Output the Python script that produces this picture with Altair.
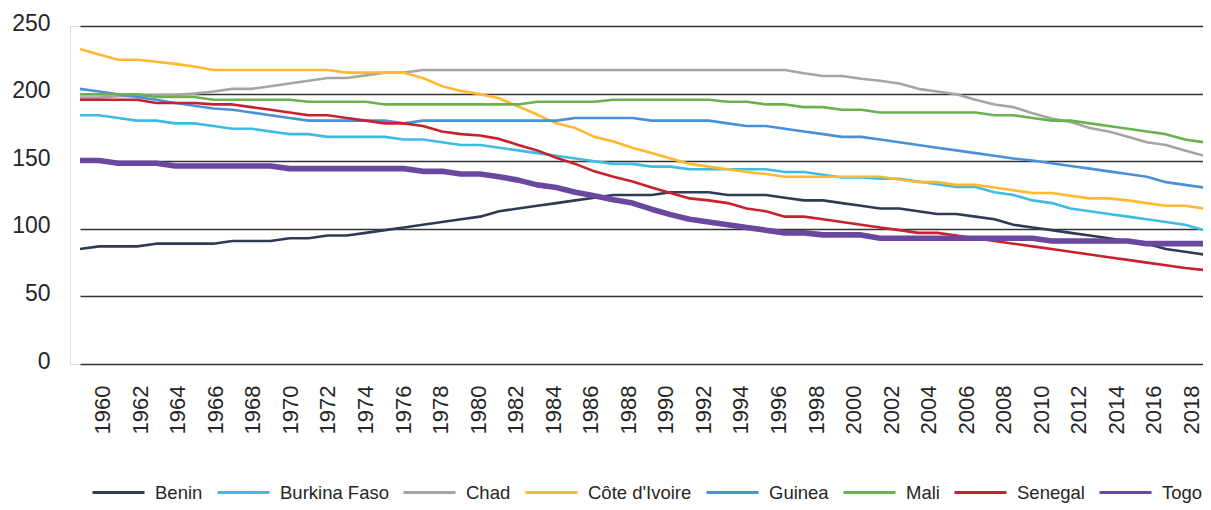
import altair as alt
import pandas as pd

years = list(range(1960, 2020))
label_years = list(range(1960, 2019, 2))

countries = ["Benin", "Burkina Faso", "Chad", "Côte d'Ivoire", "Guinea", "Mali", "Senegal", "Togo"]
colors = ["#2E3B55", "#3DBBE3", "#A5A5A5", "#FFB92E", "#4A90D9", "#6AB150", "#C8202E", "#6A48A0"]

benin = [85, 87, 87, 87, 89, 89, 89, 89, 91, 91, 91, 93, 93, 95, 95, 97, 99, 101, 103, 105,
         107, 109, 113, 115, 117, 119, 121, 123, 125, 125, 125, 127, 127, 127, 125, 125, 125, 123, 121, 121,
         119, 117, 115, 115, 113, 111, 111, 109, 107, 103, 101, 99, 97, 95, 93, 91, 89, 85, 83, 81]
burkina = [184, 184, 182, 180, 180, 178, 178, 176, 174, 174, 172, 170, 170, 168, 168, 168, 168, 166, 166, 164,
           162, 162, 160, 158, 156, 154, 152, 150, 148, 148, 146, 146, 144, 144, 144, 144, 144, 142, 142, 140,
           138, 138, 137, 137, 135, 133, 131, 131, 127, 125, 121, 119, 115, 113, 111, 109, 107, 105, 103, 99]
chad = [197, 197, 198, 198, 199, 199, 200, 201.5, 203.5, 203.5, 205.5, 207.5, 209.5, 211.5, 211.5, 213.5, 215.5, 215.5, 217.5, 217.5,
        217.5, 217.5, 217.5, 217.5, 217.5, 217.5, 217.5, 217.5, 217.5, 217.5, 217.5, 217.5, 217.5, 217.5, 217.5, 217.5, 217.5, 217.5, 215, 213,
        213, 211, 209.5, 207.5, 203.5, 201.5, 199.5, 195.5, 192, 190, 185.5, 181.5, 179, 174.5, 172, 168, 164, 162, 158, 154]
cote = [233, 229, 225, 225, 223.5, 222, 220, 217.5, 217.5, 217.5, 217.5, 217.5, 217.5, 217.5, 215.5, 215.5, 215.5, 215.5, 211.5, 205.5,
        202, 199.5, 196.5, 190.5, 184.5, 178, 174.5, 168, 164.5, 160, 156, 152, 148, 146, 144, 142, 140.5, 138.5, 138.5, 138.5,
        138.5, 138.5, 138.5, 136.5, 134.5, 134.5, 132.5, 132.5, 130.5, 128.5, 126.5, 126.5, 124.5, 122.5, 122.5, 121, 119, 117, 117, 115]
guinea = [203.5, 201.5, 199.5, 197.5, 195.5, 193, 191, 189, 188, 186, 184, 182, 180, 180, 180, 180, 180, 178, 180, 180,
          180, 180, 180, 180, 180, 180, 182, 182, 182, 182, 180, 180, 180, 180, 178, 176, 176, 174, 172, 170,
          168, 168, 166, 164, 162, 160, 158, 156, 154, 152, 150.5, 148.5, 146.5, 144.5, 142.5, 140.5, 138.5, 134.5, 132.5, 130.5]
mali = [199.5, 199.5, 199.5, 199.5, 197.5, 197.5, 197.5, 195.5, 195.5, 195.5, 195.5, 195.5, 194, 194, 194, 194, 192, 192, 192, 192,
        192, 192, 192, 192, 194, 194, 194, 194, 195.5, 195.5, 195.5, 195.5, 195.5, 195.5, 194, 194, 192, 192, 190, 190,
        188, 188, 186, 186, 186, 186, 186, 186, 184, 184, 182, 180, 180, 178, 176, 174, 172, 170, 166, 164]
senegal = [195.5, 195.5, 195.5, 195.5, 193, 193, 193, 192, 192, 190, 188, 186, 184, 184, 182, 180, 178, 178, 176, 172,
           170, 169, 166.5, 162, 158, 152.5, 148, 142.5, 138.5, 135, 130.5, 126.5, 122.5, 121, 119, 115, 113, 109, 109, 107,
           105, 103, 101, 99, 97, 97, 95, 93, 91, 89, 87, 85, 83, 81, 79, 77, 75, 73, 71, 69.5]
togo = [150.5, 150.5, 148.5, 148.5, 148.5, 146.5, 146.5, 146.5, 146.5, 146.5, 146.5, 144.5, 144.5, 144.5, 144.5, 144.5, 144.5, 144.5, 142.5, 142.5,
        140.5, 140.5, 138.5, 136, 132.5, 130.5, 127, 124.5, 121.5, 119, 114.5, 110.5, 107, 105, 103, 101, 99, 97, 97, 95.5,
        95.5, 95.5, 93, 93, 93, 93, 93, 93, 93, 93, 93, 91, 91, 91, 91, 91, 89, 89, 89, 89]

series = [benin, burkina, chad, cote, guinea, mali, senegal, togo]
rows = []
for c, vals in zip(countries, series):
    for y, v in zip(years, vals):
        rows.append({"Year": y, "Country": c, "Value": v})
df = pd.DataFrame(rows)
labels_df = pd.DataFrame({"Year": label_years})

FONT = "Liberation Sans"

xscale = alt.Scale(domain=[1960, 2019], range=[10, 1134])
yscale = alt.Scale(domain=[0, 250])
cscale = alt.Scale(domain=countries, range=colors)

yaxis = alt.Axis(values=[0, 50, 100, 150, 200, 250], title=None, domain=False, ticks=False,
                 grid=True, gridColor="#333333", gridWidth=1.5, labelOffset=-3,
                 labelFont=FONT, labelFontSize=23, labelColor="#262626", labelPadding=20)
legend = alt.Legend(title=None, orient="none", legendX=21, legendY=439,
                    direction="horizontal", symbolType="stroke", symbolSize=2704,
                    symbolStrokeWidth=3, labelFont=FONT, labelFontSize=18.5,
                    labelColor="#262626", labelOffset=9, columnPadding=8)

thin = alt.Chart(df).transform_filter(alt.datum.Country != "Togo").mark_line(
    strokeWidth=2.6, strokeJoin="round").encode(
    x=alt.X("Year:Q", scale=xscale, axis=None),
    y=alt.Y("Value:Q", scale=yscale, axis=yaxis),
    color=alt.Color("Country:N", scale=cscale, legend=legend),
)

thick = alt.Chart(df).transform_filter(alt.datum.Country == "Togo").mark_line(
    strokeWidth=5.6, strokeJoin="round").encode(
    x=alt.X("Year:Q", scale=xscale, axis=None),
    y=alt.Y("Value:Q", scale=yscale, axis=yaxis),
    color=alt.Color("Country:N", scale=cscale, legend=None),
)

xaxis = alt.Chart(labels_df).mark_point(opacity=0).encode(
    x=alt.X("Year:Q", scale=alt.Scale(domain=[1960, 2018], range=[32.7, 1121.5]),
            axis=alt.Axis(values=label_years, format="d", title=None, domain=False, ticks=False, grid=False,
                          labelAngle=270, labelFont=FONT, labelFontSize=22, labelColor="#262626",
                          labelPadding=21, labelOverlap=False))
)

chart = alt.layer(thin, thick, xaxis).resolve_scale(x="independent").properties(
    width=1133, height=338,
    padding={"left": 62, "top": 18, "right": 0, "bottom": 140},
    autosize=alt.AutoSizeParams(type="none"),
).configure_view(strokeWidth=0).configure(background="white")

chart.save("out.html", embed_options={"renderer": "svg", "actions": False})
